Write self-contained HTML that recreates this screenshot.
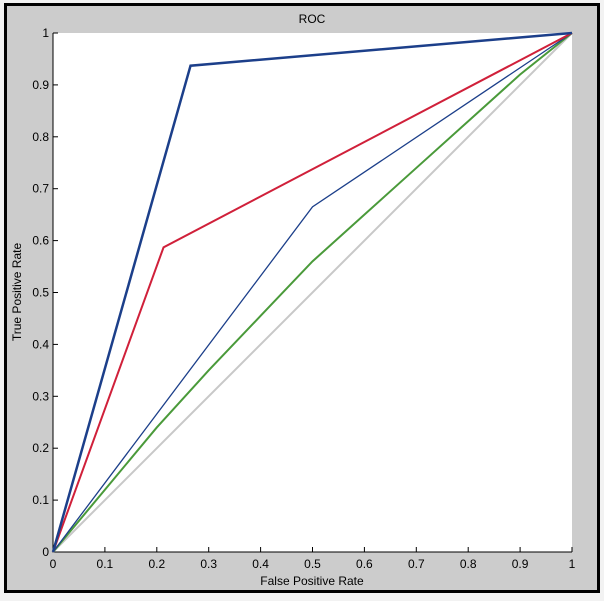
<!DOCTYPE html>
<html><head><meta charset="utf-8"><style>
body{margin:0;background:#fff;}
svg{display:block;font-family:"Liberation Sans",sans-serif;}
</style></head><body>
<svg id="chart" width="604" height="601">
<rect x="0" y="0" width="604" height="601" fill="#f2f2f2"/>
<rect x="5.5" y="4.5" width="593" height="587" fill="#cccccc" stroke="#000" stroke-width="3"/>
<rect x="53" y="33" width="519" height="519" fill="#fff"/>
<text x="312" y="23" font-size="12" text-anchor="middle">ROC</text>
<text x="312" y="585" font-size="12" text-anchor="middle">False Positive Rate</text>
<text transform="translate(21,292) rotate(-90)" font-size="12" text-anchor="middle">True Positive Rate</text>
<g id="axes"></g>
<g id="series"></g>
</svg>
<script>
const tickValues=[0,0.1,0.2,0.3,0.4,0.5,0.6,0.7,0.8,0.9,1];
const tickLabels=["0","0.1","0.2","0.3","0.4","0.5","0.6","0.7","0.8","0.9","1"];
const chanceX=[0,1];
const chanceY=[0,1];
const greenX=[0,0.1,0.2,0.3,0.4,0.5,0.6,0.7,0.8,0.9,1];
const greenY=[0,0.12,0.24,0.35,0.455,0.56,0.65,0.74,0.83,0.92,1];
const thinBlueX=[0,0.5,1];
const thinBlueY=[0,0.665,1];
const redX=[0,0.213,1];
const redY=[0,0.587,1];
const darkBlueX=[0,0.265,1];
const darkBlueY=[0,0.937,1];
const X0=53,X1=572,Y0=552,Y1=33;
const sx=v=>X0+v*(X1-X0);
const sy=v=>Y0-v*(Y0-Y1);
const NS="http://www.w3.org/2000/svg";
const axes=document.getElementById('axes');
const series=document.getElementById('series');
function mk(tag,attrs,parent){const e=document.createElementNS(NS,tag);for(const k in attrs)e.setAttribute(k,attrs[k]);parent.appendChild(e);return e;}
const ax=mk('path',{d:`M${X0},${Y1}V${Y0}H${X1}`,fill:'none',stroke:'#000','stroke-width':1},axes);


tickValues.forEach((v,i)=>{
 const tx=mk('line',{x1:sx(v),x2:sx(v),y1:Y0,y2:Y0-5,stroke:'#000'},axes);
 
 
 const lx=mk('text',{x:sx(v),y:Y0+16,'font-size':12,'text-anchor':'middle'},axes);
 lx.textContent=tickLabels[i];
 
 
 const ty=mk('line',{x1:X0,x2:X0+5,y1:sy(v),y2:sy(v),stroke:'#000'},axes);
 
 
 const ly=mk('text',{x:X0-4,y:sy(v)+4,'font-size':12,'text-anchor':'end'},axes);
 ly.textContent=tickLabels[i];
 
 
});
function line(xs,ys,color,w,name){
 const p=mk('polyline',{points:xs.map((x,i)=>sx(x)+','+sy(ys[i])).join(' '),fill:'none',stroke:color,'stroke-width':w},series);
 
 
}
line(chanceX,chanceY,'#c8c8c8',2,'chance-line');
line(greenX,greenY,'#4a9a3a',2,'green-roc-curve');
line(thinBlueX,thinBlueY,'#1c3f8a',1.3,'thin-blue-roc-curve');
line(redX,redY,'#d0203a',2,'red-roc-curve');
line(darkBlueX,darkBlueY,'#1c3f8a',2.5,'dark-blue-roc-curve');
</script>
</body></html>
